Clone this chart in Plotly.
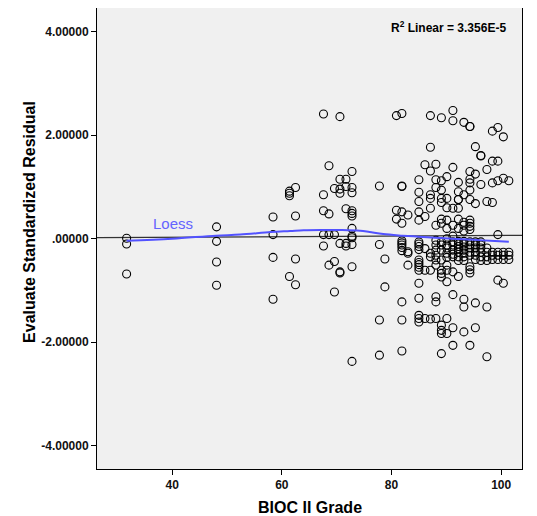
import numpy as np
import plotly.graph_objects as go

# ---- data ----
grade_cols = [31.7, 48.1, 58.4, 61.4, 62.5, 67.6, 68.6, 69.6, 70.6, 71.7, 72.8,
              77.8, 78.8, 80.9, 81.9, 83.0, 85.0, 86.1, 87.1, 88.1, 89.1, 90.1,
              91.2, 92.2, 93.2, 94.3, 95.3, 96.3, 97.4, 98.4, 99.4, 100.4, 101.4]

resid_cols = [
    [0.01, -0.10, -0.68],
    [0.23, -0.05, -0.45, -0.90],
    [0.42, 0.08, -0.36, -1.17],
    [0.92, 0.88, 0.83, -0.73],
    [0.99, 0.44, -0.39, -0.89],
    [2.41, 0.85, 0.54, 0.08, -0.14],
    [1.41, 0.48, 0.08, -0.51],
    [0.97, 0.08, -0.44, -1.03],
    [2.36, 1.15, 0.96, 0.88, -0.09, -0.64, -0.66],
    [1.15, 1.01, 0.58, -0.09, -0.14],
    [1.30, 0.99, 0.89, 0.54, 0.49, 0.44, 0.20, 0.05, 0.02, -0.11, -0.54, -2.37],
    [1.02, -0.11, -1.57, -2.25],
    [-0.39, -0.93],
    [2.38, 0.55, 0.38],
    [2.42, 1.02, 1.01, 0.52, 0.30, -0.04, -0.08, -0.12, -0.17, -0.23, -1.22, -1.57, -2.17],
    [0.46, -0.25, -0.28, -0.51],
    [1.14, 0.90, 0.72, 0.52, 0.36, -0.06, -0.10, -0.15, -0.21, -0.41, -0.46, -0.50,
     -0.55, -0.61, -0.86, -1.15, -1.48, -1.54, -1.61],
    [1.43, 0.43, -0.19, -0.61, -1.54],
    [2.38, 1.77, 1.31, 0.85, 0.78, 0.59, -0.28, -0.35, -0.61, -1.55],
    [1.44, 1.14, 0.99, 0.26, -0.03, -0.12, -0.22, -0.32, -0.41, -0.51, -1.12, -1.22, -1.54],
    [2.34, 1.12, 0.94, 0.78, 0.70, 0.38, 0.30, -0.06, -0.12, -0.22, -0.41, -0.61,
     -0.67, -0.74, -1.67, -1.77, -1.83, -2.22],
    [1.20, 0.78, 0.60, 0.36, 0.20, 0.00, -0.12, -0.18, -0.28, -0.36, -0.51, -0.61,
     -0.83, -1.54, -1.83],
    [2.48, 2.28, 1.38, 0.59, 0.26, 0.05, -0.06, -0.12, -0.22, -0.30, -0.35, -0.64,
     -1.08, -1.72, -2.06],
    [1.09, 0.91, 0.76, 0.76, 0.59, 0.38, 0.20, -0.05, -0.10, -0.15, -0.20, -0.26,
     -0.35, -0.42, -0.73],
    [2.25, 0.85, 0.32, 0.26, 0.15, -0.05, -0.10, -0.16, -0.22, -0.28, -0.35, -0.42,
     -1.17, -1.32, -1.80],
    [2.17, 2.17, 1.30, 1.15, 1.08, 0.94, 0.76, 0.36, 0.30, 0.24, 0.18, -0.06, -0.12,
     -0.18, -0.26, -0.32, -0.54, -0.60, -0.66, -2.06],
    [1.78, 1.25, 0.68, -0.06, -0.12, -0.18, -0.26, -0.32, -0.40, -1.24, -1.72],
    [1.61, 1.60, 1.05, -0.06, -0.12, -0.18, -0.26, -0.35, -0.42],
    [1.34, 0.72, -0.18, -0.26, -0.35, -0.42, -1.32, -2.28],
    [2.08, 1.50, 1.08, 0.70, -0.26, -0.32, -0.40],
    [2.15, 1.50, 1.12, 0.08, -0.26, -0.32, -0.40, -0.80],
    [1.97, 1.17, -0.26, -0.32, -0.40, -0.86],
    [1.12, -0.26, -0.32, -0.40],
]

loess_x = [31.7, 40, 48, 52.4, 58, 61.5, 64, 67.6, 71, 74.3, 76, 78.5, 82, 85, 88, 91, 95, 98, 101.4]
loess_y = [-0.04, 0.00, 0.06, 0.08, 0.13, 0.15, 0.165, 0.17, 0.17, 0.155, 0.13, 0.09,
           0.06, 0.04, 0.02, 0.00, -0.02, -0.04, -0.06]

y_tickvals = [-4, -2, 0, 2, 4]
y_ticktext = ["-4.00000", "-2.00000", ".00000", "2.00000", "4.00000"]
x_tickvals = [40, 60, 80, 100]
x_ticktext = ["40", "60", "80", "100"]

r2_text = "R<sup>2</sup> Linear = 3.356E-5"

# ---- build ----
xs = np.concatenate([[g] * len(r) for g, r in zip(grade_cols, resid_cols)])
ys = np.concatenate([np.array(r, dtype=float) for r in resid_cols])

x_range = [26.3, 103.8]
slope, intercept = np.polyfit(xs, ys, 1)
fit_x = np.array(x_range)
fit_y = intercept + slope * fit_x

FONT = "Liberation Sans, Arial, Helvetica, sans-serif"

fig = go.Figure()
fig.add_trace(go.Scatter(x=fit_x, y=fit_y, mode="lines",
                         line=dict(color="#333333", width=1.2),
                         hoverinfo="skip", showlegend=False))
fig.add_trace(go.Scatter(x=xs, y=ys, mode="markers",
                         marker=dict(symbol="circle-open", size=8,
                                     color="black", line=dict(width=1.1, color="black")),
                         showlegend=False))
fig.add_trace(go.Scatter(x=loess_x, y=loess_y, mode="lines", line_shape="spline",
                         line=dict(color="#5252ff", width=2),
                         showlegend=False))

# the page body has an 8px default margin, so the figure is sized to fit the window
fig.update_layout(
    width=529, height=508,
    margin=dict(l=89, r=15, t=0, b=47),
    paper_bgcolor="white",
    plot_bgcolor="#f0f0f0",
    font=dict(family=FONT, color="black"),
    xaxis=dict(range=x_range, tickvals=x_tickvals,
               ticktext=["<b>%s</b>" % t for t in x_ticktext],
               ticks="outside", ticklen=5, tickcolor="black",
               showgrid=False, zeroline=False, showline=True, mirror=True,
               linecolor="black", linewidth=1,
               tickfont=dict(family=FONT, size=12, color="#111")),
    yaxis=dict(range=[-4.45, 4.46], tickvals=y_tickvals,
               ticktext=["<b>%s</b>" % t for t in y_ticktext],
               ticks="outside", ticklen=5, tickcolor="black",
               showgrid=False, zeroline=False, showline=True, mirror=True,
               linecolor="black", linewidth=1,
               tickfont=dict(family=FONT, size=12, color="#111")),
    annotations=[
        dict(text="<b>BIOC II Grade</b>", x=0.5, y=0, xref="paper", yref="paper",
             xanchor="center", yanchor="middle", yshift=-38, showarrow=False,
             font=dict(family=FONT, size=16, color="black")),
        dict(text="<b>Evaluate Standardized Residual</b>", x=0, y=0.536,
             xref="paper", yref="paper", xanchor="center", yanchor="middle",
             xshift=-67, textangle=-90, showarrow=False,
             font=dict(family=FONT, size=16, color="black")),
        dict(text="<b>" + r2_text + "</b>", x=0.967, y=0.959, xref="paper", yref="paper",
             xanchor="right", yanchor="middle", showarrow=False,
             font=dict(family=FONT, size=12, color="black")),
        dict(text="Loess", x=40.2, y=0.29, xref="x", yref="y",
             xanchor="center", yanchor="middle", showarrow=False,
             font=dict(family=FONT, size=15, color="#6464ff")),
    ],
)

fig.write_html("out.html")
